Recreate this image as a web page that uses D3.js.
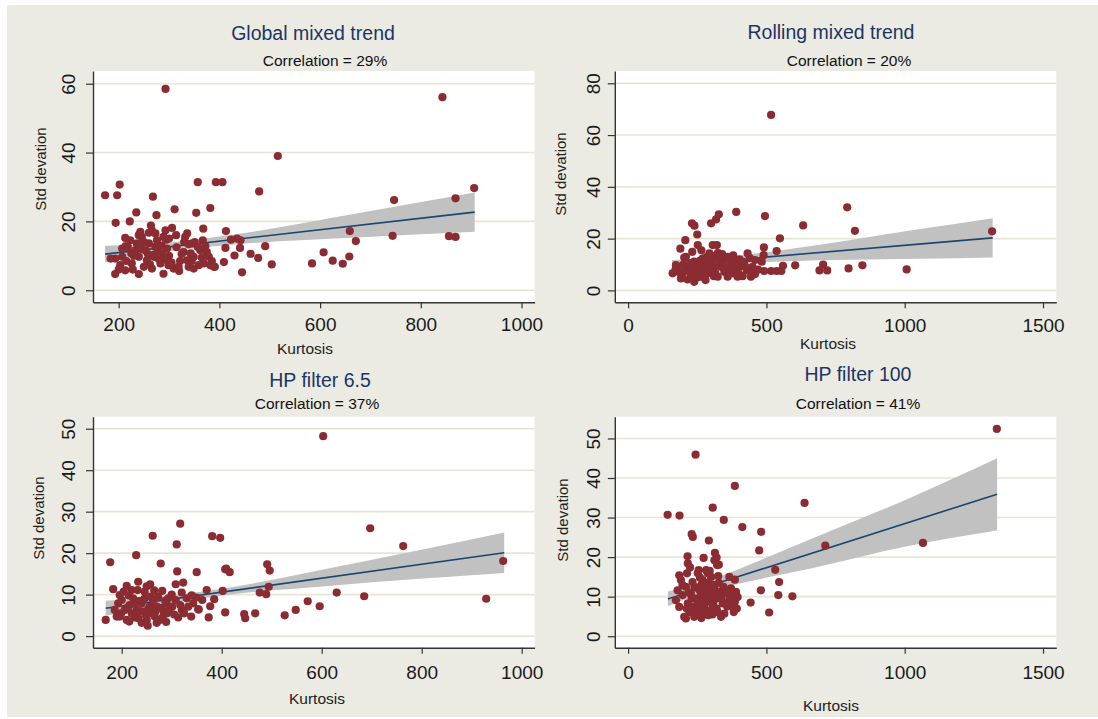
<!DOCTYPE html>
<html>
<head>
<meta charset="utf-8">
<script src="https://cdn.jsdelivr.net/npm/d3@7/dist/d3.min.js"></script>
<style>
  body { margin: 0; background: #fff; }
  svg { display: block; font-family: "Liberation Sans", Arial, sans-serif; }
</style>
</head>
<body>
<script>
// ---- data ----
var titles = ["Global mixed trend", "Rolling mixed trend", "HP filter 6.5", "HP filter 100"];
var correlations = ["29%", "20%", "37%", "41%"];

var xTicksA = [200, 400, 600, 800, 1000];
var xTicksB = [0, 500, 1000, 1500];
var yTicksGlobal = [0, 20, 40, 60];
var yTicksRolling = [0, 20, 40, 60, 80];
var yTicksHp = [0, 10, 20, 30, 40, 50];

// [kurtosis, std deviation]
var globalPoints = [
  [293,58.5],[843,56.1],[516,39.0],[906,29.7],[869,26.7],[747,26.2],[479,28.7],[357,31.4],[393,31.4],[406,31.4],
  [173,27.6],[197,27.6],[202,30.7],[268,27.2],[235,22.6],[311,23.5],[275,21.8],[382,23.9],[354,22.5],[194,19.6],
  [222,20.0],[368,17.9],[306,18.1],[413,17.2],[659,17.2],[671,14.3],[744,15.8],[856,15.7],[869,15.5],[491,12.8],
  [462,10.6],[477,9.4],[504,7.5],[584,7.8],[607,11.0],[625,8.6],[645,7.7],[658,9.8],[445,5.2],[430,10.1],
  [412,12.3],[409,8.2],[441,12.3],[423,14.7],[442,14.5],[391,6.8],[264,18.8],[213,15.2],[240,16.0],[260,16.7],
  [273,16.5],[294,14.7],[314,16.0],[332,15.5],[336,16.5],[351,14.0],[357,12.6],[367,14.5],[375,11.1],[435,15.0],
  [193,9.2],[193,4.7],[203,7.3],[207,9.7],[213,5.8],[218,12.6],[226,7.8],[233,11.6],[236,13.6],[240,9.7],
  [240,4.7],[246,15.5],[250,6.8],[253,11.6],[256,8.7],[260,13.6],[266,6.3],[270,9.7],[273,12.6],[276,14.5],
  [283,7.8],[286,10.7],[289,4.8],[296,12.1],[299,7.3],[309,6.3],[319,6.8],[329,11.1],[336,8.7],[339,6.8],
  [346,13.6],[349,9.7],[359,7.3],[362,11.6],[369,7.8],[379,9.7],[382,7.3],[389,6.8],[207,12.1],[223,14.5],
  [184,9.2],[243,17.0],[266,17.4],[293,17.4],[289,15.5],[320,5.6],[214,12.8],[339,13.4],[343,10.7],[325,10.5],
  [270,10.3],[349,6.3],[230,10.0],[280,9.0],[300,10.0],[215,8.5],[228,6.0],[245,12.0],[258,10.5],[262,7.5],
  [278,11.5],[292,9.0],[305,8.0],[315,12.5],[322,8.5],[345,8.5],[365,9.5],[372,12.8],[385,8.5],[250,14.0],
  [200,6.0],[225,10.8],[285,13.0],[300,15.0],[330,14.0]
];
var rollingPoints = [
  [517,67.8],[792,32.1],[391,30.3],[328,29.4],[495,28.7],[318,27.4],[300,25.9],[231,25.9],[240,25.0],[633,25.1],
  [820,23.0],[1316,22.8],[250,21.6],[549,20.1],[207,19.4],[491,16.6],[537,15.2],[189,16.1],[604,9.7],[560,9.5],
  [705,10.0],[692,7.7],[720,7.7],[797,8.5],[847,9.7],[1007,8.1],[492,7.5],[517,7.5],[537,7.5],[554,7.5],
  [252,17.5],[306,17.5],[321,17.5],[232,14.9],[203,12.7],[171,7.8],[161,6.6],[459,11.7],[483,11.1],[490,13.6],
  [459,6.3],[432,14.3],[403,12.0],[380,13.5],[354,12.5],[402,9.1],[429,7.8],[444,5.3],[414,5.5],[179,9.1],
  [197,6.6],[215,9.1],[227,5.3],[239,3.3],[239,11.1],[252,7.8],[263,5.3],[270,12.4],[282,9.1],[288,6.6],
  [294,14.3],[300,10.4],[306,7.8],[318,12.4],[324,5.3],[336,9.1],[342,11.1],[348,7.2],[360,5.3],[366,9.1],
  [378,6.6],[390,10.4],[396,5.3],[209,13.0],[233,8.5],[257,9.8],[275,7.8],[312,9.1],[330,11.1],[191,4.6],
  [173,9.8],[360,13.0],[420,10.4],[450,9.1],[215,4.2],[250,5.0],[280,4.0],[310,5.5],[265,15.5],[285,13.0],
  [340,14.0],[205,7.5],[225,10.5],[185,7.0],[200,10.0],[220,7.5],[245,6.5],[260,11.5],[270,9.5],[292,11.5],
  [315,6.8],[345,9.5],[355,7.0],[370,11.5],[385,8.0],[400,6.5],[410,11.0],[425,9.0],[440,12.5],[455,7.0],
  [470,8.0],[300,13.5],[325,14.5]
];
var hp65Points = [
  [603,48.2],[697,26.0],[317,27.1],[262,24.2],[381,24.1],[397,23.7],[310,22.1],[229,19.5],[763,21.7],[177,17.8],
  [278,17.5],[963,18.1],[491,17.3],[496,15.8],[407,16.1],[416,15.4],[350,15.4],[311,15.6],[183,11.3],[210,12.1],
  [233,13.1],[257,12.5],[323,12.9],[370,11.1],[402,10.9],[494,11.9],[476,10.5],[489,10.1],[630,10.5],[685,9.6],
  [929,9.0],[572,8.4],[596,7.2],[548,6.3],[526,5.0],[467,5.5],[445,5.3],[447,4.3],[407,5.7],[374,4.5],
  [377,7.2],[354,6.4],[291,5.5],[252,2.5],[168,3.9],[289,3.4],[232,11.1],[308,12.5],[281,10.9],[293,9.1],
  [385,8.9],[349,9.3],[353,6.5],[313,4.5],[320,6.3],[333,7.1],[339,4.7],[409,16.3],[186,6.3],[193,7.9],
  [196,4.7],[200,8.7],[206,6.3],[210,3.9],[216,7.5],[220,5.5],[223,9.1],[230,6.3],[233,4.3],[240,7.9],
  [243,5.9],[246,9.1],[250,3.9],[256,7.1],[260,5.5],[263,8.7],[266,4.7],[270,7.1],[273,9.5],[276,3.9],
  [284,5.9],[289,7.9],[301,7.1],[308,8.7],[317,7.5],[330,9.1],[190,4.7],[204,10.7],[220,11.1],[246,10.7],
  [196,9.9],[343,7.9],[361,8.7],[236,6.0],[226,8.0],[253,6.5],[280,6.8],[212,6.9],[199,5.5],[214,9.8],
  [226,4.5],[236,8.5],[248,5.0],[258,9.5],[268,6.0],[282,4.5],[295,6.2],[305,5.2],[325,5.5],[340,9.8],
  [265,11.0],[287,8.5],[250,12.0],[215,3.5],[240,3.2],[270,3.2],[300,10.0],[320,10.5]
];
var hp100Points = [
  [1333,52.4],[244,45.9],[386,38.0],[638,33.7],[306,32.5],[143,30.7],[186,30.5],[346,29.4],[413,27.6],[481,26.4],
  [230,25.8],[234,25.1],[292,24.2],[713,22.9],[1066,23.6],[474,21.7],[314,21.1],[320,19.9],[273,19.8],[215,20.2],
  [328,18.1],[532,16.8],[546,13.7],[480,11.6],[543,10.4],[594,10.1],[443,8.5],[510,6.0],[216,18.4],[224,17.4],
  [213,15.9],[255,16.7],[312,19.2],[322,18.0],[185,15.4],[197,12.9],[366,15.0],[386,14.3],[326,15.2],[288,15.9],
  [173,9.1],[179,11.6],[185,7.4],[197,10.4],[203,4.9],[209,12.5],[216,8.3],[222,6.1],[227,10.8],[233,13.7],
  [239,7.4],[245,9.5],[252,12.1],[254,5.7],[261,8.3],[264,10.8],[270,14.2],[276,7.0],[282,9.9],[285,12.5],
  [290,5.3],[294,8.7],[300,15.0],[300,11.2],[306,7.4],[312,12.9],[318,9.5],[324,6.1],[333,11.2],[342,8.3],
  [348,5.7],[354,10.8],[366,9.1],[372,12.1],[382,6.1],[386,8.7],[396,9.9],[390,11.2],[378,7.4],[239,4.9],
  [209,4.5],[336,4.9],[191,14.2],[252,15.9],[282,16.7],[260,11.5],[275,10.5],[290,13.5],[300,9.0],[265,13.0],
  [280,6.0],[310,10.5],[250,8.0],[230,9.5],[240,12.5],[248,6.5],[258,9.0],[268,6.5],[272,12.0],[278,8.5],
  [287,11.0],[296,6.5],[303,13.0],[308,8.0],[315,11.5],[320,7.0],[328,13.5],[338,9.5],[345,12.5],[358,7.5],
  [362,11.5],[375,10.0],[393,7.0],[295,16.5],[260,14.8],[220,11.0],[212,7.0],[265,4.6],[305,5.5]
];

// fitted line (end points) and 95% band
var globalFitKurt = [173, 907],  globalFitStd = [10.5, 22.7];
var globalBandKurt = [173, 300, 414, 672, 907];
var globalBandLo = [8.1, 11.3, 13.1, 15.3, 17.0];
var globalBandHi = [12.9, 13.9, 15.9, 22.3, 28.4];

var rollingFitKurt = [159, 1318], rollingFitStd = [9.8, 20.3];
var rollingBandKurt = [159, 330, 573, 800, 1055, 1318];
var rollingBandLo = [7.9, 10.0, 11.3, 11.8, 12.2, 12.7];
var rollingBandHi = [11.7, 12.7, 15.8, 19.4, 23.7, 27.9];

var hp65FitKurt = [168, 965], hp65FitStd = [6.7, 20.1];
var hp65BandKurt = [168, 300, 400, 613, 965];
var hp65BandLo = [4.9, 8.0, 9.8, 12.1, 15.2];
var hp65BandHi = [8.5, 9.8, 11.4, 16.3, 25.0];

var hp100FitKurt = [144, 1334], hp100FitStd = [9.4, 35.9];
var hp100BandKurt = [144, 290, 408, 661, 1000, 1334];
var hp100BandLo = [7.6, 11.3, 13.4, 17.1, 22.6, 26.7];
var hp100BandHi = [11.3, 14.0, 17.2, 24.6, 34.4, 45.0];

// ---- layout ----
var svgWidth = 1098;
var svgHeight = 719;

var svg = d3.select("body")
  .append("svg")
  .attr("width", svgWidth)
  .attr("height", svgHeight);

svg.append("rect")
  .attr("x", 7).attr("y", 5)
  .attr("width", svgWidth - 7).attr("height", svgHeight - 7)
  .attr("fill", "#ebebe3");

var panels = [
  { points: globalPoints, fitK: globalFitKurt, fitS: globalFitStd,
    bandK: globalBandKurt, lo: globalBandLo, hi: globalBandHi,
    xTicks: xTicksA, yTicks: yTicksGlobal, xDom: [149, 1026], yDom: [-3.5, 63.7],
    box: { l: 93, r: 534.6, t: 71, b: 302.3 },
    titleXY: [313, 33], subXY: [325, 60], tickY: 324, xlabXY: [305, 348], ylabXY: [41, 169], ytickX: 68 },
  { points: rollingPoints, fitK: rollingFitKurt, fitS: rollingFitStd,
    bandK: rollingBandKurt, lo: rollingBandLo, hi: rollingBandHi,
    xTicks: xTicksB, yTicks: yTicksRolling, xDom: [-48, 1548], yDom: [-4.6, 84.75],
    box: { l: 614.8, r: 1056.3, t: 71, b: 302.3 },
    titleXY: [831, 32], subXY: [849, 60], tickY: 325, xlabXY: [828, 343], ylabXY: [561, 174], ytickX: 593 },
  { points: hp65Points, fitK: hp65FitKurt, fitS: hp65FitStd,
    bandK: hp65BandKurt, lo: hp65BandLo, hi: hp65BandHi,
    xTicks: xTicksA, yTicks: yTicksHp, xDom: [142.6, 1025.8], yDom: [-2.8, 52.9],
    box: { l: 93, r: 534.6, t: 416.7, b: 647.7 },
    titleXY: [320, 380], subXY: [317, 403], tickY: 672, xlabXY: [317, 698], ylabXY: [39, 518], ytickX: 68 },
  { points: hp100Points, fitK: hp100FitKurt, fitS: hp100FitStd,
    bandK: hp100BandKurt, lo: hp100BandLo, hi: hp100BandHi,
    xTicks: xTicksB, yTicks: yTicksHp, xDom: [-48, 1548], yDom: [-2.9, 55.5],
    box: { l: 614.8, r: 1056.3, t: 416.7, b: 647.7 },
    titleXY: [858, 374], subXY: [858, 403], tickY: 672, xlabXY: [831, 705], ylabXY: [563, 520], ytickX: 593 }
];

panels.forEach(function (p, i) {
  var g = svg.append("g");
  var x = d3.scaleLinear().domain(p.xDom).range([p.box.l, p.box.r]);
  var y = d3.scaleLinear().domain(p.yDom).range([p.box.b, p.box.t]);

  // plot region
  g.append("rect")
    .attr("x", p.box.l).attr("y", p.box.t)
    .attr("width", p.box.r - p.box.l).attr("height", p.box.b - p.box.t)
    .attr("fill", "#ffffff");

  // grid lines
  g.selectAll(".grid")
    .data(p.yTicks)
    .enter()
    .append("line")
    .attr("x1", p.box.l).attr("x2", p.box.r)
    .attr("y1", function (d) { return y(d); })
    .attr("y2", function (d) { return y(d); })
    .attr("stroke", "#e6e6d3")
    .attr("stroke-width", 1.6);

  // confidence band
  var band = p.bandK.map(function (k, j) { return { k: k, lo: p.lo[j], hi: p.hi[j] }; });
  g.append("path")
    .datum(band)
    .attr("fill", "#c1c1c1")
    .attr("d", d3.area()
      .curve(d3.curveMonotoneX)
      .x(function (d) { return x(d.k); })
      .y0(function (d) { return y(d.lo); })
      .y1(function (d) { return y(d.hi); }));

  // fitted line
  var fit = p.fitK.map(function (k, j) { return [k, p.fitS[j]]; });
  g.append("path")
    .datum(fit)
    .attr("fill", "none")
    .attr("stroke", "#1a476f")
    .attr("stroke-width", 1.6)
    .attr("d", d3.line()
      .x(function (d) { return x(d[0]); })
      .y(function (d) { return y(d[1]); }));

  // scatter
  g.selectAll(".dot")
    .data(p.points)
    .enter()
    .append("circle")
    .attr("cx", function (d) { return x(d[0]); })
    .attr("cy", function (d) { return y(d[1]); })
    .attr("r", 4.1)
    .attr("fill", "#8b2c33");

  // axes
  var xAxis = g.append("g")
    .attr("transform", "translate(0," + p.box.b + ")")
    .call(d3.axisBottom(x).tickValues(p.xTicks).tickFormat(d3.format("d"))
      .tickSize(6).tickSizeOuter(0));
  xAxis.selectAll("text")
    .attr("y", p.tickY - p.box.b)
    .attr("dy", "0.36em")
    .style("font-size", "19px")
    .style("fill", "#1a1a1a");

  var yAxis = g.append("g")
    .attr("transform", "translate(" + p.box.l + ",0)")
    .call(d3.axisLeft(y).tickValues(p.yTicks).tickFormat(d3.format("d"))
      .tickSize(7).tickSizeOuter(0));
  yAxis.selectAll("text")
    .attr("transform", "rotate(-90)")
    .attr("x", 0)
    .attr("y", p.ytickX - p.box.l)
    .attr("dy", "0.36em")
    .attr("text-anchor", "middle")
    .style("font-size", "19px")
    .style("fill", "#1a1a1a");

  g.selectAll(".domain").attr("stroke", "#333").attr("stroke-width", 1.4);
  g.selectAll(".tick line").attr("stroke", "#333").attr("stroke-width", 1.2);

  // titles and labels
  g.append("text")
    .attr("x", p.titleXY[0]).attr("y", p.titleXY[1])
    .attr("dy", "0.36em")
    .attr("text-anchor", "middle")
    .style("font-size", "19.5px")
    .style("fill", "#1c3565")
    .text(titles[i]);

  g.append("text")
    .attr("x", p.subXY[0]).attr("y", p.subXY[1])
    .attr("dy", "0.36em")
    .attr("text-anchor", "middle")
    .style("font-size", "15.5px")
    .style("fill", "#111")
    .text("Correlation = " + correlations[i]);

  g.append("text")
    .attr("x", p.xlabXY[0]).attr("y", p.xlabXY[1])
    .attr("dy", "0.36em")
    .attr("text-anchor", "middle")
    .style("font-size", "15.5px")
    .style("fill", "#222")
    .text("Kurtosis");

  g.append("text")
    .attr("transform", "translate(" + p.ylabXY[0] + "," + p.ylabXY[1] + ") rotate(-90)")
    .attr("dy", "0.36em")
    .attr("text-anchor", "middle")
    .style("font-size", "15px")
    .style("fill", "#222")
    .text("Std devation");
});
</script>
</body>
</html>
